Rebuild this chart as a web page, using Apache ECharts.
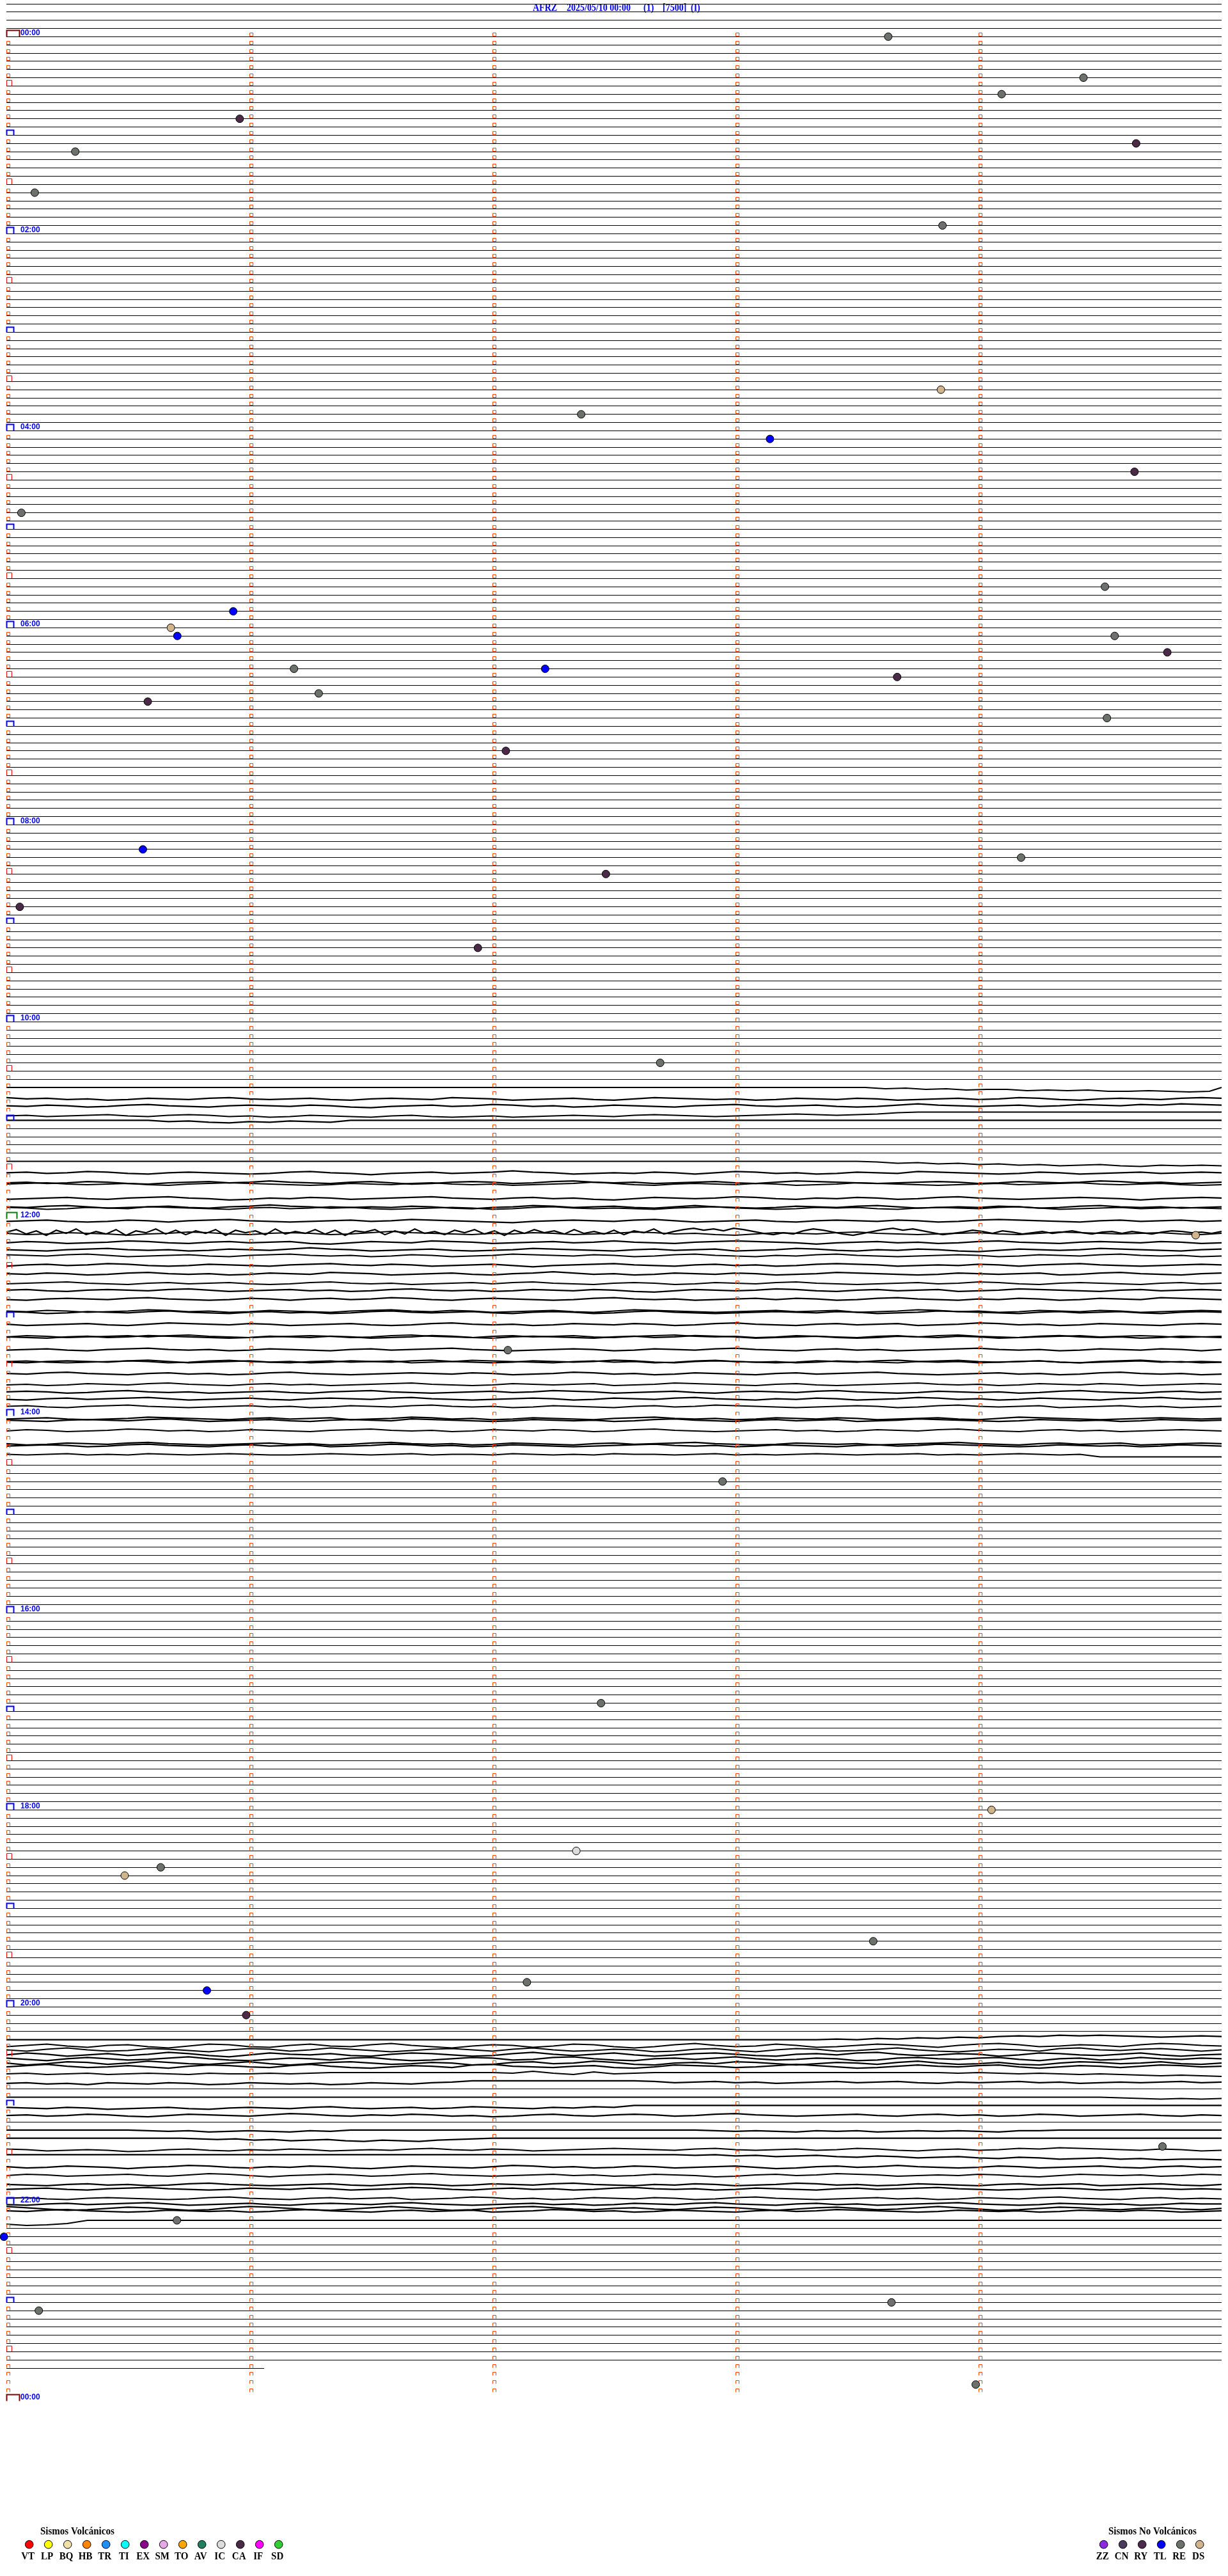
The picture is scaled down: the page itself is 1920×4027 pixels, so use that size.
<!DOCTYPE html>
<html><head><meta charset="utf-8">
<script src="https://cdn.jsdelivr.net/npm/echarts@6/dist/echarts.min.js"></script>
<style>html,body{margin:0;padding:0;background:#fff}#c{width:1920px;height:4027px}</style>
</head><body><div id="c"></div>
<script>
// ---------------- DATA ----------------
const titleParts = ['AFRZ', '2025/05/10 00:00', '(1)', '[7500]', '(I)'];
const hourLabels = ['00:00','02:00','04:00','06:00','08:00','10:00','12:00','14:00','16:00','18:00','20:00','22:00','00:00'];
const ROW_COUNT = 289;          // trace lines, 5 minutes each
const LAST_ROW_END = 63.6;      // seconds drawn on the last line
const MARKER_ROWS = 288;        // minute-mark rows
const MARKER_ROW_SHIFT = 4;     // marks sit above line (row + 4)

const volcanicTypes  = ['VT','LP','BQ','HB','TR','TI','EX','SM','TO','AV','IC','CA','IF','SD'];
const volcanicColors = ['#ff0000','#ffff00','#f0dfa8','#ff8400','#1e8fff','#00ffff','#8b008b','#e8a8e8','#ffa500','#1f7f5f','#dcdcdc','#4b2a48','#ff00ff','#32cd32'];
const nonVolcanicTypes  = ['ZZ','CN','RY','TL','RE','DS'];
const nonVolcanicColors = ['#8a2be2','#4b3a5c','#4d2a4d','#0000ff','#6c716c','#d2b48c'];

const eventRows  = [4,9,11,14,17,18,23,27,47,50,53,57,62,71,74,76,77,77,79,81,81,82,84,85,87,91,103,104,106,110,115,129,150,164,180,207,220,225,227,228,236,242,241,245,261,270,272,280,281,290];
const eventSecs  = [217.7,265.9,245.7,57.6,278.9,17.0,7.0,231.1,230.7,141.9,188.5,278.5,3.7,271.2,56.0,40.6,42.2,273.6,286.6,71.0,133.0,219.9,77.1,34.9,271.7,123.3,33.7,250.5,148.0,3.3,116.4,161.4,293.6,123.8,176.8,146.8,243.2,140.7,38.1,29.2,214.0,49.5,128.5,59.2,285.4,42.1,-0.6,218.5,8.0,239.3];
const eventTypes = ['RE','RE','RE','CA','CA','RE','RE','RE','DS','RE','TL','CA','RE','RE','TL','DS','TL','RE','CA','RE','TL','CA','RE','CA','RE','CA','TL','RE','CA','CA','CA','RE','DS','RE','RE','RE','DS','IC','RE','DS','RE','TL','RE','CA','RE','RE','TL','RE','RE','RE'];

// noisy traces: line index, DC offset (px), start/end second, sampled deflections (px)
const traceRows    = [132,133,134,135,136,141,142,143,144,145,146,147,148,149,150,151,152,153,154,155,156,157,158,159,160,161,162,163,164,165,166,167,168,169,170,171,172,173,174,175,176,177,
                      248,249,249,250,250,251,251,252,253,255,256,257,259,260,261,262,263,264,265,266,267,268,268,269,270];
const traceOffsets = [0,5,3,5,0,0,5,7,-3,6,7,-4,3,8,-3,-2,-3,-7,-5,-4,-2,-4,-3,3,-8,-2,4,-8,-1,5,-8,-2,2,1,-1,-2,4,-6,-3,5,-5,-4,
                      0,-4,3,-3,4,-2,3,0,0,0,3,2,0,0,4,0,6,6,8,2,4,0,7,-2,0];
const traceStarts  = [212,0,0,0,35,210,0,0,0,0,0,0,0,0,0,0,0,0,0,0,0,0,0,0,0,0,0,0,0,0,0,0,0,0,0,0,0,0,0,0,0,0,
                      200,0,0,0,0,0,0,0,0,270,0,0,0,43,0,0,0,0,0,0,0,0,0,0,0];
const traceEnds    = [297,300,300,225,85,300,300,300,300,300,300,300,300,300,300,300,300,300,300,300,300,300,300,300,300,300,300,300,300,300,300,300,300,300,300,300,300,300,300,300,300,270,
                      300,300,300,300,300,300,300,300,300,300,155,300,300,120,300,300,300,300,300,300,300,300,300,300,20];
const traceWaves = [
 [0,2,1,3,2,4,3,3,5,4,5,4,6,6,5,6,7,6],
 [-2,0,-1,1,0,2,1,-1,0,1,-1,-2,0,1,0,-1,1,2,0,-1,0,1,-2,-1,0,2,1,0,-1,1,2,0,-2,-1,0,1,0,2,1,-1,0,1,-1,0,2,1,0,-1,1,0,-2,-1,1,2,0,-1,0,1,-1,-2,-1],
 [0,1,-1,0,2,1,-1,-2,0,1,2,0,-1,0,1,-1,0,2,3,1,0,-1,1,0,-2,-1,1,0,2,1,-1,0,1,2,0,-1,-2,0,1,0,-1,1,2,1,-1,-3,-1,0,1,0,-1,1,0,-2,-1,0,-2,-1,-3,-2,-1],
 [1,0,2,1,0,-1,1,2,0,-1,0,2,1,3,2,0,1,2,3,1,0,2,3,2,1,3,2,1,0,1,2,0,-1,0,1,2,1,0,-1,-2,-1,0,-1,-2,-4,-5],
 [0,2,1,3,4,2,3,1,2,3,0],
 [0,1,3,2,4,3,5,4,6,5,7,6,5,7,8,6,7,6,7],
 [0,-1,1,0,-2,-1,1,2,0,-1,0,1,2,1,-1,-2,0,1,3,1,0,-1,1,0,-1,-3,-1,0,2,1,0,1,-1,0,2,0,-2,-1,1,0,2,1,-1,0,1,-2,-1,0,1,2,1,-1,0,2,1,0,-1,1,0,-1,0],
 [1,0,2,1,-1,0,2,3,1,0,-1,1,0,-2,0,1,2,0,-1,1,3,2,0,-1,0,2,1,-1,-2,0,1,0,2,1,0,-1,1,2,0,-2,-1,0,1,2,1,0,-1,0,2,1,-1,0,1,0,-2,-1,1,0,2,1,0],
 [0,-1,-2,0,1,0,-1,1,2,0,-1,-2,-1,0,1,2,1,-1,0,1,-1,-2,0,1,0,2,1,0,-1,-3,-1,1,2,0,-1,0,1,-1,0,2,1,0,-2,-1,0,1,2,1,0,-1,1,0,-1,-2,0,1,0,-1,1,2,1],
 [2,1,0,-1,1,2,0,-1,-2,0,1,3,2,0,1,-1,0,2,1,0,-1,-2,0,1,2,0,-1,1,0,2,3,1,-1,0,1,0,-2,-1,1,2,0,1,-1,0,2,1,-1,-2,0,1,2,1,0,-1,0,1,3,1,0,-1,0],
 [0,1,-1,-2,0,2,1,0,-1,1,2,0,-1,-3,-1,0,2,1,0,1,-1,0,2,3,1,0,-2,-1,1,0,-1,1,2,0,-2,0,1,2,1,-1,0,1,-1,-2,0,2,1,0,1,-1,0,2,1,-1,-2,0,1,0,2,1,0],
 [-1,0,2,1,-1,0,1,-2,-1,0,1,2,0,-1,1,0,-2,-1,1,2,1,0,-1,0,2,1,-1,-2,0,1,0,1,2,0,-1,-2,0,1,2,1,-1,0,-1,1,2,0,-1,0,1,-1,-2,0,2,1,0,-1,1,0,-1,0,1],
 [1,0,-1,1,2,1,-1,0,2,0,-1,-2,0,1,2,1,0,-1,1,0,-2,-1,0,1,2,3,1,0,-1,0,1,-1,-2,0,2,1,0,-1,1,2,0,-1,0,1,-1,0,2,1,-1,-2,-1,0,1,2,0,-1,1,0,-1,1,0],
 [0,-4,3,-2,5,-3,2,-5,4,-1,3,-4,5,-2,1,-5,3,-3,4,-2,2,-4,5,-3,1,-2,4,-5,3,-1,2,-4,3,-3,5,-2,0,-4,4,-2,3,-5,2,-1,4,-3,1,-4,3,-2,5,-3,2,-4,1,-2,3,-4,2,-1,3,-3,4,-2,1,-5,3,-1,-4,-6,-3,-5,-2,-6,-4,-1,2,4,1,3,-2,-5,-3,0,3,5,2,-1,-4,-6,-3,-5,-2,1,4,2,0,-3,-1,2,-2,0,3,1,-1,2,0,-2,1,3,0,-1,2,-1,1,3,0,-2,-1,1,0,2,-1],
 [0,2,1,-1,0,1,3,1,0,-2,-1,1,2,0,-1,0,2,1,-1,-3,-1,0,1,2,0,1,-1,0,2,1,0,-2,-1,1,0,2,3,1,-1,0,1,-1,-2,0,1,2,1,0,-1,1,2,0,-2,-1,0,1,0,-1,1,2,0],
 [1,-1,0,2,1,0,-2,-1,1,2,0,-1,1,0,-1,2,3,1,-1,0,1,-2,-1,0,2,1,0,-1,1,0,-2,0,1,2,0,-1,-2,-1,0,1,3,1,0,-1,1,0,2,1,-1,-2,0,1,2,0,-1,0,1,-1,0,2,1],
 [0,1,2,0,-1,-2,0,1,0,2,1,-1,0,1,-1,-3,-1,0,2,1,0,-1,1,2,1,0,-2,-1,0,1,2,0,-1,1,0,-1,2,1,0,-2,-1,1,2,0,1,-1,0,2,3,1,-1,0,1,0,-2,-1,0,1,2,0,-1],
 [-1,0,1,-1,-2,0,2,1,0,-1,1,2,0,-1,-2,0,1,0,2,1,-1,0,2,1,0,-2,-1,0,1,-1,0,2,1,-1,-2,0,1,2,0,1,-1,-2,0,1,2,1,0,-1,0,2,1,-1,0,1,-1,-2,0,1,0,2,1],
 [2,0,-1,1,0,-2,-1,1,2,1,-1,0,1,2,0,-1,-2,0,1,-1,0,2,1,0,-1,1,3,1,0,-1,-2,0,1,2,0,-1,1,0,2,1,-1,-2,-1,0,2,1,0,1,-1,0,2,0,-1,-2,0,1,2,1,0,-1,0],
 [0,1,-1,0,2,1,-1,-2,0,1,0,2,1,-1,0,1,-2,-1,0,2,1,0,-1,1,2,0,-1,-3,-1,1,0,2,1,-1,0,1,-1,0,2,1,0,-2,-1,0,1,2,1,-1,0,1,0,-1,2,1,-1,-2,0,1,2,0,-1],
 [1,0,-1,-2,0,1,2,0,-1,1,0,-1,1,2,1,-1,-2,0,1,0,2,1,0,-1,1,-1,-2,0,1,2,0,-1,0,2,1,-1,0,1,-1,-2,0,1,2,1,0,-1,1,0,-2,-1,1,2,0,-1,0,1,2,0,-1,1,0],
 [0,-1,1,2,0,-1,0,1,-1,-2,0,2,1,0,-1,1,0,2,1,-1,-2,0,1,0,2,1,-1,0,1,-1,0,2,3,1,-1,0,1,0,-2,-1,1,2,0,-1,1,0,-1,2,1,0,-2,-1,0,1,2,0,-1,1,0,-1,0],
 [1,2,0,-1,0,1,-1,-2,0,1,2,1,-1,0,2,0,-1,1,0,-2,-1,1,2,0,-1,0,1,2,1,-1,-2,0,1,0,2,1,0,-1,1,-1,0,2,1,-1,-2,0,1,2,0,1,-1,0,2,1,-1,0,1,-2,-1,0,1],
 [0,1,-1,0,2,1,0,-2,-1,1,0,2,1,-1,0,1,2,0,-1,-2,0,1,-1,0,2,1,0,-1,1,2,0,-2,-1,0,1,2,1,0,-1,1,0,-1,2,1,0,-2,-1,1,0,2,1,-1,0,1,-1,0,2,1,0,-1,0],
 [-1,0,2,1,-1,0,1,-1,-2,0,1,2,0,-1,1,0,2,1,-1,-2,0,1,0,-1,1,2,0,-1,0,2,1,-1,-2,0,1,2,1,0,-1,0,1,-1,0,2,1,0,-2,-1,0,1,2,0,-1,1,0,-1,1,2,0,-1,0],
 [0,2,1,0,-1,1,2,0,-2,-1,0,1,-1,0,2,1,0,-1,1,2,1,-1,-2,0,1,0,2,1,-1,0,1,-1,0,2,1,-1,-2,0,1,2,0,-1,1,0,-1,2,1,0,-2,-1,1,0,2,1,-1,0,1,2,0,-1,0],
 [1,-1,0,2,1,0,-1,1,-1,-2,0,1,2,1,0,-1,0,2,1,-1,-2,0,1,2,0,-1,1,0,-1,1,2,0,-1,-2,0,1,0,2,1,-1,0,1,2,0,-1,1,-1,-2,0,1,2,1,0,-1,1,0,-1,0,2,1,0],
 [0,1,2,0,-1,1,0,-2,-1,0,1,2,1,-1,0,1,-1,0,2,1,0,-2,-1,1,2,0,-1,0,1,2,0,-1,1,0,-2,-1,0,2,1,0,-1,1,2,1,-1,0,1,-1,0,2,1,-1,-2,0,1,0,2,1,-1,0,1],
 [1,0,-1,1,2,0,-1,-2,0,1,0,2,1,-1,0,1,2,0,-1,1,0,-1,-2,0,1,2,1,0,-1,0,2,1,-1,0,1,-1,-2,0,1,2,0,-1,1,0,2,1,0,-1,-2,0,1,0,2,1,-1,0,1,-1,0,2,0],
 [0,-1,1,2,1,0,-1,0,2,1,-1,-2,0,1,2,0,-1,1,0,-1,2,1,0,-2,-1,0,1,2,0,-1,1,0,2,1,-1,-2,0,1,0,2,1,-1,0,1,2,0,-1,-2,0,1,0,-1,1,2,1,0,-1,1,0,2,1],
 [1,2,0,-1,0,1,-1,-2,0,2,1,0,-1,1,0,2,1,-1,0,1,-1,-2,0,1,2,1,-1,0,1,0,-2,-1,1,2,0,-1,0,1,2,1,-1,0,1,-1,-2,0,1,0,2,1,0,-1,1,2,0,-1,-2,0,1,0,1],
 [0,1,-1,-2,0,1,2,0,-1,1,0,2,1,-1,-2,0,1,2,1,0,-1,0,1,-1,0,2,1,0,-2,-1,1,0,2,1,-1,0,1,2,0,-1,1,0,-1,-2,0,1,2,1,0,-1,1,0,2,1,-1,-2,0,1,0,2,1],
 [1,0,2,1,-1,0,1,-1,-2,0,1,2,0,-1,1,0,2,1,0,-1,-2,0,1,2,1,-1,0,1,0,-1,2,1,0,-2,-1,0,1,2,0,-1,1,2,1,0,-1,-2,0,1,0,2,1,-1,0,1,-1,0,2,1,0,-1,0],
 [0,-1,0,2,1,-1,-2,0,1,0,2,1,0,-1,1,2,0,-1,-2,0,1,2,1,0,-1,1,0,-2,-1,0,2,1,0,-1,1,2,0,-1,0,1,-1,-2,0,1,2,1,-1,0,1,0,2,1,-1,-2,0,1,2,0,-1,1,0],
 [1,2,0,-1,1,0,-1,-2,0,2,1,0,-1,1,2,0,-1,0,1,-1,-2,0,1,2,1,0,-1,0,2,1,-1,0,1,-1,-2,0,1,2,0,1,-1,0,2,1,0,-2,-1,1,0,2,1,-1,0,1,2,0,-1,-2,0,1,0],
 [0,-1,1,2,0,-1,-2,0,1,2,1,0,-1,1,0,2,1,-1,0,1,-1,-2,0,1,0,2,1,-1,0,1,2,0,-1,1,0,-2,-1,0,1,2,1,0,-1,0,2,1,-1,-2,0,1,0,-1,2,1,0,-1,1,0,2,1,0],
 [1,0,-1,1,2,1,0,-2,-1,0,1,2,0,-1,1,0,-1,2,1,0,-2,-1,1,0,2,1,-1,0,1,2,0,-1,-2,0,1,0,2,1,-1,0,1,-1,0,2,1,0,-1,1,2,0,-2,-1,0,1,2,1,0,-1,0,1,0],
 [0,1,2,0,-1,0,1,-1,-2,0,2,1,0,-1,1,2,0,-1,0,1,-2,-1,0,1,2,1,-1,0,1,0,2,1,-1,-2,0,1,2,0,-1,1,0,-1,2,1,0,-2,-1,0,1,2,1,-1,0,1,0,2,1,-1,0,1,0],
 [1,-1,0,2,1,0,-2,-1,1,0,2,1,-1,0,1,2,0,-1,-2,0,1,0,2,1,-1,0,1,-1,0,2,1,-1,-2,0,1,2,1,0,-1,1,0,2,1,-1,0,1,-1,-2,0,1,2,0,-1,1,0,2,1,0,-1,0,1],
 [0,2,1,-1,0,1,-1,-2,0,1,2,1,0,-1,1,0,2,1,-1,-2,0,1,0,2,1,-1,0,1,2,0,-1,1,0,-1,-2,0,1,2,1,-1,0,1,0,2,1,0,-1,-2,0,1,2,0,-1,1,0,-1,2,1,0,-1,0],
 [1,0,-1,0,2,1,-1,-2,0,1,2,0,-1,1,0,-1,2,1,0,-2,-1,1,0,2,1,-1,0,1,2,1,0,-1,-2,0,1,0,2,1,-1,0,1,2,0,-1,1,0,-2,-1,0,1,2,1,-1,0,1,0,2,1,-1,0,1],
 [0,1,0,-1,1,0,1,-1,0,1,0,-1,0,1,1,0,-1,0,1,0,-1,1,0,0,1,-1,0,1,0,1,-1,0,0,1,0,-1,1,0,1,0,-1,0,1,0,0,-1,1,0,1,0,-1,0,1,0,4],
 [0,-1,0,-2,-1,-3,-2,-4,-3,-5,-6,-5,-7,-6,-7,-6,-5,-4,-5,-6,-5],
 [2,0,-2,1,3,0,-1,2,4,1,-2,-1,2,3,0,-2,1,2,-1,-3,0,2,4,1,-1,0,3,1,-2,-1,2,4,2,-1,-3,0,2,1,-2,0,3,2,0,-2,-1,1,3,0,-2,-3,-1,2,1,-1,0,2,-1,-3,-2,0,1],
 [0,2,-1,-3,0,2,1,-2,-1,1,3,0,-2,-1,2,0,-3,-1,1,3,1,-1,-2,0,2,-1,-3,0,2,1,-1,0,3,2,-1,-2,1,3,0,-2,-1,2,1,-1,-3,0,2,3,1,-1,0,2,-2,-3,0,1,-1,-2,0,2,0],
 [1,-2,0,3,1,-1,2,0,-3,-1,2,4,1,-2,0,1,-1,2,3,0,-2,-1,1,3,2,-1,-3,0,2,0,-2,1,3,1,-1,-2,0,2,3,0,-1,1,-2,-3,0,2,1,-1,0,3,1,-2,-1,1,2,0,-2,1,3,1,0],
 [-1,1,3,0,-2,0,2,1,-1,-3,0,2,3,1,-1,0,2,-1,-2,1,3,2,0,-2,-1,2,1,-2,-3,0,2,3,0,-1,1,-1,-3,0,2,1,-1,0,3,2,-1,-2,0,1,-1,-2,1,3,0,-1,2,1,-2,0,1,-1,0],
 [0,3,1,-2,-1,2,0,-3,-1,1,2,0,-2,1,3,1,-1,-2,0,2,1,-1,0,3,2,-1,-2,1,0,-3,-1,2,3,0,-1,1,-2,-1,1,3,1,-1,0,2,-1,-3,0,2,1,-1,2,3,0,-2,-1,1,0,-2,1,2,0],
 [1,-1,-3,0,2,1,-1,1,3,0,-2,-1,1,2,-1,-3,0,2,3,1,-1,0,2,-2,-3,0,1,2,0,-1,2,3,1,-2,-1,0,2,1,-1,-3,-1,1,3,2,0,-2,0,1,-1,-2,1,3,1,-1,0,2,0,-2,-1,1,0],
 [2,1,3,2,1,3,2,1,2,3,1,2,2,1,2,1,0,0,0,0,0,0,0,0,0,1,-2,1,3,-1,2,1,0,0,0,0,0,0,0,0,0,0,0,0,0,0,0,1,0,1,2,1,2,3,2,3,4,5,4,5,6],
 [4,3,5,4,6,3,4,5,3,4,6,5,3,4,5,4,6,5,3,4,5,3,2,0,0,0,0,0,0,0,0,0,1,3,2,1,3,2,4,3,2,1,3,2,1,3,4,2,3,2,1,3,2,4,3,2,3,2,1,3,2],
 [0,1,2,3,2,3,2],
 [0,1,2,0,1,3,2,1,0,2,3,1,0,1,2,0,-1,1,2,1,0,2,1,-1,0,1,2,0,1,-1,0,-3],
 [1,0,2,1,-1,0,2,3,1,-1,0,1,2,0,-2,-1,1,2,0,1,-1,0,2,1,3,2,0,-1,1,2,0,-1,0,2,1,-1,-2,0,1,2,1,0,-1,1,2,0,-1,1,0,2,1,-1,0,2,1,0,-1,1,2,0,1],
 [0,0,0,0,0,0,0,1,2,1,3,2,1,2,3,1,2,0,0,0,0,0,0,0,0,0,0,0,0,0,0,0,0,0,0,1,2,1,2,3,1,2,1,3,2,1,2,1,2,3,1,1,0,0,0,0,0,0,0,0,0],
 [0,1,2,1,3,2,4,3,2,4,5,3,4,5,3,2,1,0],
 [0,1,3,2,1,2,4,3,1,0,2,3,1,2,0,1,3,2,1,2,0,-1,1,2,0,1,3,2,1,0,-1,0,1,2,0,-1,1,2,1,0,2,1,-1,0,2,3,1,0,2,1,-1,0,-2,-1,0,1,2,0,1,3,2],
 [0,0,0,0,0,0,0,0,0,0,0,0,0,0,0,0,0,0,0,0,0,0,0,0,0,0,0,0,0,0,0,0,0,0,1,0,2,1,3,2,1,3,4,2,3,5,4,3,5,6,4,5,7,6,5,7,6,8,7,7,8],
 [0,2,1,-1,0,1,3,1,0,-2,-1,1,2,0,1,-1,0,2,3,1,-1,0,1,2,0,-2,-1,1,0,2,1,-1,0,2,1,0,-1,1,3,2,0,-1,1,0,-2,0,1,2,1,-1,0,2,1,0,-1,1,2,0,-1,1,0],
 [1,-1,0,2,1,0,-1,1,2,0,-2,-1,1,3,1,0,-1,0,2,1,-1,-2,0,1,2,1,0,-1,1,0,2,1,-1,0,1,3,2,0,-1,1,0,-2,-1,0,2,1,0,1,-1,0,2,3,1,-1,0,1,0,2,1,-1,0],
 [0,1,2,0,-1,1,0,2,1,-1,-2,0,1,2,1,0,-1,1,2,0,-1,0,2,1,-1,0,1,-1,-2,0,1,2,0,1,-1,0,2,1,0,-2,-1,1,0,2,1,-1,0,1,2,0,-1,1,0,-1,2,1,0,-1,1,2,0],
 [1,0,-1,1,2,0,-1,-2,0,1,2,1,-1,0,1,-1,0,2,1,0,-2,-1,1,2,0,-1,1,0,2,1,-1,-2,0,1,0,2,1,-1,0,1,2,0,-1,1,0,-1,-2,0,1,2,1,0,-1,0,2,1,-1,0,1,0,1],
 [0,-1,1,2,0,-1,0,1,2,1,-1,-2,0,1,2,0,-1,1,0,-1,2,1,0,-2,-1,1,0,2,1,-1,0,1,-1,0,2,1,-1,-2,0,1,2,1,0,-1,1,0,2,1,-1,0,1,-1,-2,0,1,2,0,-1,1,0,1],
 [1,2,0,-1,1,0,-1,-2,0,2,1,0,-1,1,2,0,-1,0,1,-1,-2,0,1,2,1,0,-1,1,0,2,1,-1,0,1,-1,-2,0,1,2,0,-1,1,0,2,1,0,-1,-2,0,1,2,1,-1,0,1,0,2,1,-1,0,0],
 [-3,-1,1,3,2,0,-2,-1,1,3,2,-1,-3,-2,0,2,3,1,-1,-3,-1,1,3,2,0,-2,-3,-1,1,2,0,-1,1,2,0,-2,-1,1,3,1,-1,-2,0,2,1,-1,-3,-1,1,3,2,0,-2,-1,1,2,0,-1,1,2,0],
 [0,1,-1,-2,0,1,2,1,-1,0,1,0,2,1,-1,-2,0,1,2,0,-1,1,0,-1,2,1,0,-2,-1,1,0,2,1,-1,0,1,2,0,-1,1,0,-2,-1,0,1,2,1,-1,0,1,0,2,1,-1,0,1,-1,0,2,1,0],
 [6,8,7,5,0]
];

// ---------------- BUILD ----------------
const ROW_PX = 3696 / 288;            // pixel height of one 5-minute line
const PX = 1 / ROW_PX;                 // px deflection -> row units
const typeColor = {};
volcanicTypes.forEach((t, i) => typeColor[t] = volcanicColors[i]);
nonVolcanicTypes.forEach((t, i) => typeColor[t] = nonVolcanicColors[i]);

const traced = new Set(traceRows);
const flatData = [];
for (let j = 0; j < ROW_COUNT; j++) {
  if (traced.has(j)) continue;
  flatData.push([j === ROW_COUNT - 1 ? LAST_ROW_END : 300, j]);
}
const traceData = traceRows.map((j, i) => {
  const w = traceWaves[i], s = traceStarts[i], e = traceEnds[i], off = traceOffsets[i];
  const pts = [];
  if (s > 0) pts.push([0, j]);
  w.forEach((v, k) => pts.push([s + (e - s) * k / (w.length - 1), j + (off + v) * PX]));
  if (e < 300) pts.push([300, j]);
  return { coords: pts };
});

function renderFlat(params, api) {
  const end = api.value(0), j = api.value(1);
  const a = api.coord([0, j]), b = api.coord([end, j]);
  const y = Math.floor(a[1]) + 0.5;
  return { type: 'line', shape: { x1: Math.round(a[0]), y1: y, x2: Math.round(b[0]), y2: y },
           style: { stroke: '#000', lineWidth: 1 } };
}

const markerData = [];
for (let k = 0; k < MARKER_ROWS; k++) {
  for (let m = 0; m < 5; m++) {
    let kind = 0;
    if (m === 0) kind = (k % 24 === 0) ? 3 : (k % 12 === 0) ? 2 : (k % 6 === 0) ? 1 : 0;
    markerData.push([m, k, kind]);
  }
}
markerData.push([0, MARKER_ROWS, 3]);

const bracketColors = ['#800000','#0000ff','#0000ff','#0000ff','#0000ff','#0000ff','#008000','#0000ff','#0000ff','#0000ff','#0000ff','#0000ff','#800000'];
const CLOSED_MARKER_ROWS = 120;

function renderMarker(params, api) {
  const m = api.value(0), k = api.value(1), kind = api.value(2);
  const p = api.coord([m * 60, k + MARKER_ROW_SHIFT]);
  const x = Math.round(p[0]), y = Math.floor(p[1]);
  let w = 5, h = 5, color = '#ff4500', lw = 1, bottom = y - 1;
  if (kind === 1) { w = 8; h = 9; color = '#ff0000'; lw = 1; bottom = y; }
  if (kind === 2) { w = 11; h = 8; color = '#0000ff'; lw = 2; bottom = y; }
  const children = [];
  if (kind === 3) {
    const hi = k / 24;
    color = bracketColors[hi]; lw = 2; h = 10; bottom = y;
    w = (hi === 0 || hi === 12) ? 20 : (hi === 6 ? 16 : 11);
    children.push({ type: 'text', x: x + 22, y: y - 5.5,
      style: { text: hourLabels[hi], fill: '#0000ff', font: 'bold 12px "Liberation Sans", Arial, sans-serif',
               textVerticalAlign: 'middle', verticalAlign: 'middle', textAlign: 'left', align: 'left' } });
  }
  const x0 = x + 0.5, x1 = x0 + w, yb = bottom + 0.5, yt = yb - h;
  const closed = kind === 0 && k < CLOSED_MARKER_ROWS;
  children.unshift({ type: closed ? 'polygon' : 'polyline',
    shape: { points: [[x0, yb], [x0, yt], [x1, yt], [x1, yb]] },
    style: { stroke: color, fill: null, lineWidth: lw } });
  return { type: 'group', children };
}

const eventData = eventRows.map((r, i) => ({ value: [eventSecs[i], r], itemStyle: { color: typeColor[eventTypes[i]] } }));

// graphic: title and legends
const serif = '"Liberation Serif", "Times New Roman", serif';
const titleX = [833, 886, 1006, 1036, 1080];
const graphics = [];
titleParts.forEach((t, i) => graphics.push({ type: 'text', x: titleX[i], y: 12.5, scaleY: 1.2,
  style: { text: t, fill: '#0000ff', font: 'bold 14px ' + serif, textVerticalAlign: 'middle', verticalAlign: 'middle' } }));
function legendBlock(title, titleLeft, types, colors, firstX) {
  graphics.push({ type: 'text', x: titleLeft, y: 3957.5, scaleY: 1.1,
    style: { text: title, fill: '#000', font: 'bold 15px ' + serif, textVerticalAlign: 'middle', verticalAlign: 'middle' } });
  types.forEach((t, i) => {
    const cx = firstX + 30 * i;
    graphics.push({ type: 'circle', shape: { cx: cx, cy: 3977.7, r: 6.3 }, style: { fill: colors[i], stroke: '#000', lineWidth: 1 } });
    graphics.push({ type: 'text', x: cx - 2, y: 3996.7, scaleY: 1.12,
      style: { text: t, fill: '#000', font: 'bold 15px ' + serif, textAlign: 'center', align: 'center', textVerticalAlign: 'middle', verticalAlign: 'middle' } });
  });
}
legendBlock('Sismos Volcánicos', 63, volcanicTypes, volcanicColors, 45.7);
legendBlock('Sismos No Volcánicos', 1733, nonVolcanicTypes, nonVolcanicColors, 1725.7);

const chart = echarts.init(document.getElementById('c'), null, { renderer: 'canvas' });
chart.setOption({
  animation: false,
  backgroundColor: '#ffffff',
  grid: { left: 10, top: 6, width: 1900, height: 300 * ROW_PX },
  xAxis: { type: 'value', min: 0, max: 300, show: false },
  yAxis: { type: 'value', min: 0, max: 300, inverse: true, show: false },
  series: [
    { type: 'custom', renderItem: renderFlat, data: flatData, silent: true, z: 2 },
    { type: 'lines', coordinateSystem: 'cartesian2d', polyline: true, silent: true, z: 2,
      data: traceData, lineStyle: { color: '#000', width: 2.2, opacity: 1, join: 'miter' } },
    { type: 'custom', renderItem: renderMarker, data: markerData, silent: true, z: 3 },
    { type: 'scatter', data: eventData, symbol: 'circle', symbolSize: 12, clip: false, silent: true, z: 5,
      itemStyle: { borderColor: '#000', borderWidth: 1, opacity: 1 } }
  ],
  graphic: graphics
});
</script></body></html>
